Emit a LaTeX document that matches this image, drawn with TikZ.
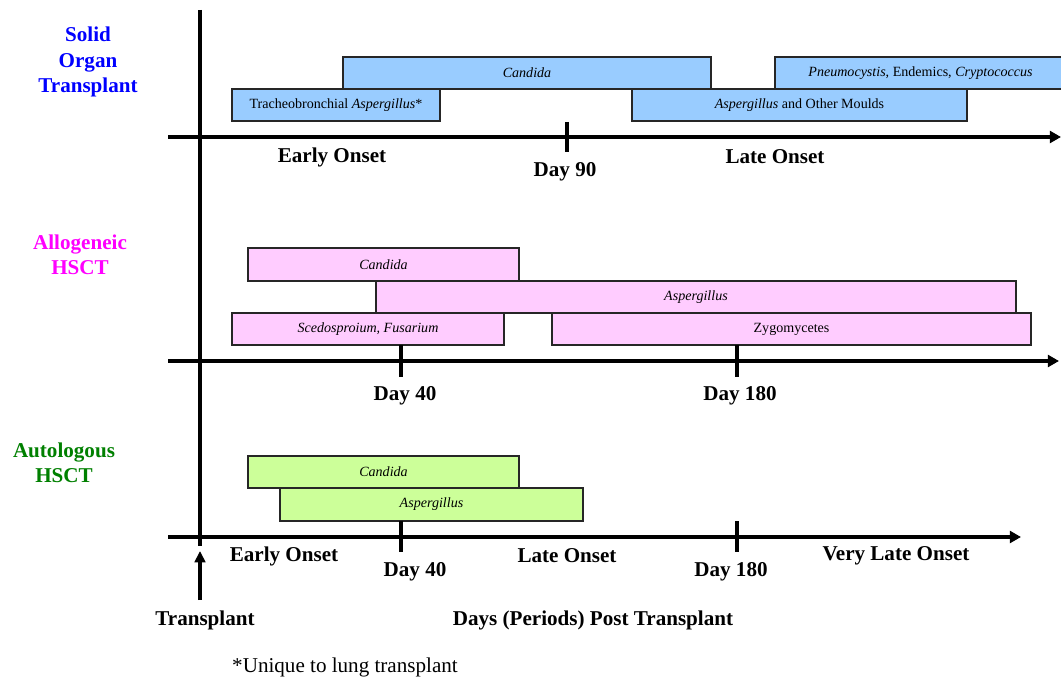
\documentclass[tikz,border=0pt]{standalone}
\usepackage{fontspec}
\setmainfont{Liberation Serif}
\usetikzlibrary{arrows.meta}
\definecolor{sotfill}{HTML}{99CCFF}
\definecolor{allofill}{HTML}{FFCCFF}
\definecolor{autofill}{HTML}{CCFF99}
\definecolor{sotlabel}{HTML}{0000FF}
\definecolor{allolabel}{HTML}{FF00FF}
\definecolor{autolabel}{HTML}{008000}
\tikzset{
	timeaxis/.style={line width=2.8pt, -{Triangle[length=8pt,width=8.5pt]}},
	daytick/.style={line width=2.8pt},
	bar/.style={draw=black!85, line width=0.9pt},
	bartext/.style={font=\fontsize{10}{12}\selectfont},
	period/.style={font=\fontsize{15}{18}\selectfont\bfseries},
	group/.style={font=\fontsize{15}{18}\selectfont\bfseries, align=center}
}

\begin{document}
\begin{tikzpicture}[x=0.025cm, y=-0.025cm]
			%%%%% START %%%%%
			\useasboundingbox[fill=white] (0,0) rectangle (1061,683);
			
			% solid organ transplant
			\node[group, text=sotlabel] (sot) at (88,62) {Solid\\Organ\\Transplant};
			\draw[bar, fill=sotfill] (343,57) rectangle (711,89) node[midway, bartext] (sotcand) {\textit{Candida}};
			\draw[bar, fill=sotfill] (775,57) rectangle (1066,89) node[midway, bartext] (sotpneu) {\textit{Pneumocystis}, Endemics, \textit{Cryptococcus}};
			\draw[bar, fill=sotfill] (232,89) rectangle (440,121) node[midway, bartext] (sottrach) {Tracheobronchial \textit{Aspergillus}*};
			\draw[bar, fill=sotfill] (632,89) rectangle (967,121) node[midway, bartext] (sotasp) {\textit{Aspergillus} and Other Moulds};
			\draw[timeaxis] (168,137) -- (1061,137);
			\draw[daytick] (567,122) -- (567,152);
			\node[period] (sotearly) at (332,157) {Early Onset};
			\node[period] (sotday) at (565,172) {Day 90};
			\node[period] (sotlate) at (775,157) {Late Onset};
			
			% allogeneic HSCT
			\node[group, text=allolabel] (allo) at (80,255) {Allogeneic\\HSCT};
			\draw[bar, fill=allofill] (248,248) rectangle (519,281) node[midway, bartext] (allocand) {\textit{Candida}};
			\draw[bar, fill=allofill] (376,281) rectangle (1016,313) node[midway, bartext] (alloasp) {\textit{Aspergillus}};
			\draw[bar, fill=allofill] (232,313) rectangle (504,345) node[midway, bartext] (alloscedo) {\textit{Scedosproium, Fusarium}};
			\draw[bar, fill=allofill] (552,313) rectangle (1031,345) node[midway, bartext] (allozygo) {Zygomycetes};
			\draw[timeaxis] (168,361) -- (1059,361);
			\draw[daytick] (401,345) -- (401,377);
			\draw[daytick] (737,345) -- (737,377);
			\node[period] (allofirst) at (405,396) {Day 40};
			\node[period] (allosecond) at (740,396) {Day 180};
			
			% autologous HSCT
			\node[group, text=autolabel] (auto) at (64,463) {Autologous\\HSCT};
			\draw[bar, fill=autofill] (248,456) rectangle (519,488) node[midway, bartext] (autocand) {\textit{Candida}};
			\draw[bar, fill=autofill] (280,488) rectangle (583,521) node[midway, bartext] (autoasp) {\textit{Aspergillus}};
			\draw[timeaxis] (168,537) -- (1021,537);
			\draw[daytick] (401,521) -- (401,552);
			\draw[daytick] (737,521) -- (737,552);
			\node[period] (autoearly) at (284,556) {Early Onset};
			\node[period] (autofirst) at (415,572) {Day 40};
			\node[period] (autolate) at (567,556) {Late Onset};
			\node[period] (autosecond) at (731,572) {Day 180};
			\node[period] (autoverylate) at (896,556) {Very Late Onset};
			
			% time zero
			\draw[line width=2.8pt] (200,10) -- (200,546);
			\coordinate (txfoot) at (200,600);
			\coordinate (txtip) at (200,551);
			\draw[line width=2.2pt, -{Triangle[length=8pt,width=7.5pt]}] (txfoot) -- (txtip);
			\node[period] (transplant) at (205,620) {Transplant};
			\node[period] (daysaxis) at (593,620) {Days (Periods) Post Transplant};
			\node[font=\fontsize{15}{18}\selectfont] (footnote) at (345,667) {*Unique to lung transplant};
			
			%%%%% END %%%%%
\end{tikzpicture}
\end{document}
